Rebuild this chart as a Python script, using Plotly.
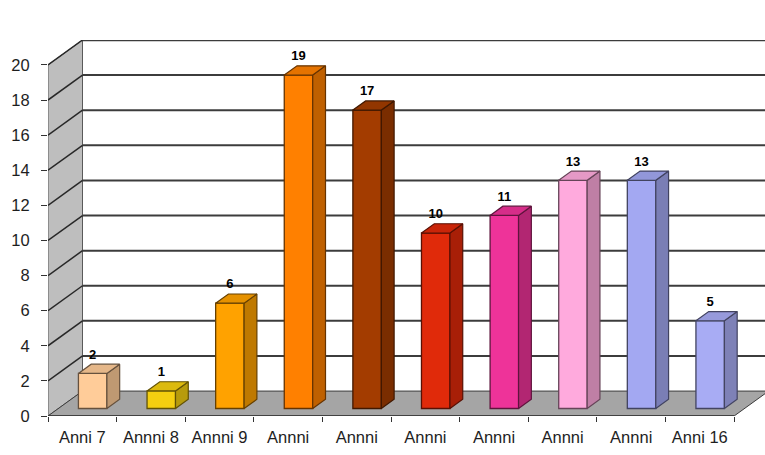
import plotly.graph_objects as go

# ---- data ----
categories = ["Anni 7", "Annni 8", "Annni 9", "Annni", "Annni", "Annni", "Annni", "Annni", "Annni", "Anni 16"]
values = [2, 1, 6, 19, 17, 10, 11, 13, 13, 5]
colors = ["#FFCC99", "#F5CF10", "#FFA200", "#FF8000", "#A33C00",
          "#E02A0A", "#EE3399", "#FFAADD", "#A3A8F2", "#A8ACF4"]
y_ticks = list(range(0, 21, 2))

# ---- 3D geometry (in axis units) ----
DX = 0.503   # depth offset along x (category units)
DY = 1.42    # depth offset along y (value units)
F1, F2 = 0.30, 0.67   # bar front/back depth fractions
BW = 0.415   # bar width
XMAX = 10.45
YMAX = 20 + DY
n = len(values)


def shade(hexc, k):
    h = hexc.lstrip("#")
    r, g, b = (int(h[i:i + 2], 16) for i in (0, 2, 4))
    return "rgb(%d,%d,%d)" % (int(r * k), int(g * k), int(b * k))


def path(pts):
    return "M " + " L ".join("%f,%f" % p for p in pts) + " Z"


shapes = []
# back wall
shapes.append(dict(type="path", xref="x", yref="y", layer="below",
                   path=path([(DX, DY), (XMAX + 1, DY), (XMAX + 1, 20 + DY), (DX, 20 + DY)]),
                   fillcolor="white", line=dict(width=0)))
# side wall
shapes.append(dict(type="path", xref="x", yref="y", layer="below",
                   path=path([(0, 0), (0, 20), (DX, 20 + DY), (DX, DY)]),
                   fillcolor="rgb(190,190,190)", line=dict(color="rgb(90,90,90)", width=1)))
# floor
shapes.append(dict(type="path", xref="x", yref="y", layer="below",
                   path=path([(0, 0), (n, 0), (n + DX, DY), (DX, DY)]),
                   fillcolor="rgb(165,165,165)", line=dict(color="rgb(60,60,60)", width=1)))
# gridlines on back wall and side wall
for v in y_ticks:
    if v == 0:
        continue
    shapes.append(dict(type="line", xref="x", yref="y", layer="below",
                       x0=DX, x1=XMAX + 1, y0=v + DY, y1=v + DY,
                       line=dict(color="rgb(60,60,60)", width=2 if v < 20 else 2.5)))
    shapes.append(dict(type="line", xref="x", yref="y", layer="below",
                       x0=0, x1=DX, y0=v, y1=v + DY,
                       line=dict(color="rgb(40,40,40)", width=1.5)))
# front x-axis edge
shapes.append(dict(type="line", xref="x", yref="y", layer="below",
                   x0=0, x1=n, y0=0, y1=0, line=dict(color="rgb(50,50,50)", width=1.5)))

fig = go.Figure()

base = F1 * DY
centers = [i + 0.5 + F1 * DX for i in range(n)]
ddx = (F2 - F1) * DX
ddy = (F2 - F1) * DY

# front faces
fig.add_trace(go.Bar(
    x=centers, y=values, base=[base] * n, width=BW,
    marker=dict(color=colors, line=dict(color=[shade(c, 0.4) for c in colors], width=1.3)),
    hoverinfo="skip", showlegend=False))

# side and top faces
for c, v, col in zip(centers, values, colors):
    xr = c + BW / 2
    xl = c - BW / 2
    top = base + v
    side = [(xr, base), (xr, top), (xr + ddx, top + ddy), (xr + ddx, base + ddy), (xr, base)]
    topf = [(xl, top), (xr, top), (xr + ddx, top + ddy), (xl + ddx, top + ddy), (xl, top)]
    for pts, k in ((side, 0.75), (topf, 0.9)):
        fig.add_trace(go.Scatter(
            x=[p[0] for p in pts], y=[p[1] for p in pts], mode="lines", fill="toself",
            fillcolor=shade(col, k), line=dict(color=shade(col, 0.4), width=1.2),
            hoverinfo="skip", showlegend=False))

# value labels
fig.add_trace(go.Scatter(
    x=centers, y=[base + v + ddy + 0.5 for v in values], mode="text",
    text=["<b>%d</b>" % v for v in values], textposition="middle center",
    textfont=dict(family="Liberation Sans, Arial", size=13, color="black"),
    hoverinfo="skip", showlegend=False))

fig.update_layout(
    width=765, height=455,
    margin=dict(l=48, r=0, t=40, b=39),
    paper_bgcolor="white", plot_bgcolor="white",
    shapes=shapes,
    font=dict(family="Liberation Sans, Arial", size=16.5, color="rgb(30,30,30)"),
    xaxis=dict(range=[0, XMAX], tickmode="array",
               tickvals=[i + 0.5 for i in range(n)], ticktext=categories,
               ticks="", showgrid=False, zeroline=False, showline=False,
               ticklabelstandoff=9,
               minor=dict(tickmode="array", tickvals=list(range(n + 1)), ticks="outside",
                          ticklen=5, tickcolor="rgb(50,50,50)", showgrid=False),
               fixedrange=True),
    yaxis=dict(range=[0, YMAX], tickmode="array", tickvals=y_ticks,
               ticks="outside", ticklen=6, tickcolor="rgb(50,50,50)",
               ticklabelstandoff=8,
               showgrid=False, zeroline=False, showline=False, fixedrange=True),
)

fig.write_html("out.html")
